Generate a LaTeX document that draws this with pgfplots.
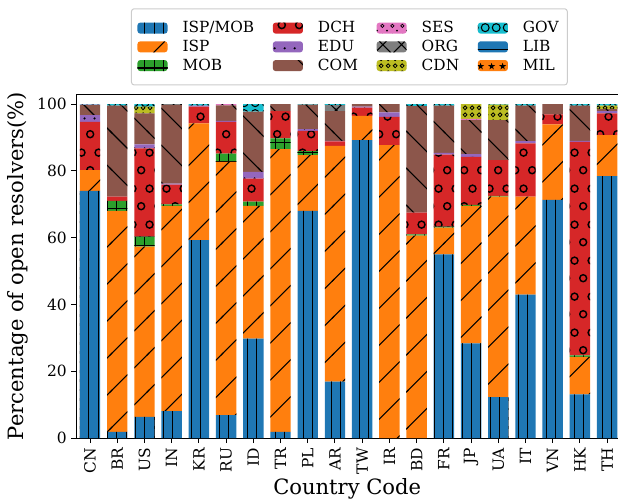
\documentclass[border=0pt]{standalone}
\usepackage{fontspec}
\setmainfont{DejaVu Serif}
\usepackage{pgfplots}
\pgfplotsset{compat=1.18}
\usepackage{pgfplotstable}
\usetikzlibrary{patterns}

\definecolor{c1}{HTML}{1F77B4}
\definecolor{c2}{HTML}{FF7F0E}
\definecolor{c3}{HTML}{2CA02C}
\definecolor{c4}{HTML}{D62728}
\definecolor{c5}{HTML}{9467BD}
\definecolor{c6}{HTML}{8C564B}
\definecolor{c7}{HTML}{E377C2}
\definecolor{c8}{HTML}{7F7F7F}
\definecolor{c9}{HTML}{BCBD22}
\definecolor{c10}{HTML}{17BECF}

% vertical lines
\pgfdeclarepatternformonly{pvl}{\pgfqpoint{-1pt}{-1pt}}{\pgfqpoint{8pt}{8pt}}{\pgfqpoint{7pt}{7pt}}{%
  \pgfsetlinewidth{0.8pt}%
  \pgfpathmoveto{\pgfqpoint{3.5pt}{-1pt}}\pgfpathlineto{\pgfqpoint{3.5pt}{8pt}}\pgfusepath{stroke}}
% horizontal lines
\pgfdeclarepatternformonly{phl}{\pgfqpoint{-1pt}{-1pt}}{\pgfqpoint{8pt}{8pt}}{\pgfqpoint{7pt}{7pt}}{%
  \pgfsetlinewidth{0.8pt}%
  \pgfpathmoveto{\pgfqpoint{-1pt}{3.5pt}}\pgfpathlineto{\pgfqpoint{8pt}{3.5pt}}\pgfusepath{stroke}}
% grid
\pgfdeclarepatternformonly{pgrid}{\pgfqpoint{-1pt}{-1pt}}{\pgfqpoint{8pt}{8pt}}{\pgfqpoint{7pt}{7pt}}{%
  \pgfsetlinewidth{0.8pt}%
  \pgfpathmoveto{\pgfqpoint{3.5pt}{-1pt}}\pgfpathlineto{\pgfqpoint{3.5pt}{8pt}}%
  \pgfpathmoveto{\pgfqpoint{-1pt}{3.5pt}}\pgfpathlineto{\pgfqpoint{8pt}{3.5pt}}\pgfusepath{stroke}}
% north east lines
\pgfdeclarepatternformonly{pne}{\pgfqpoint{-1pt}{-1pt}}{\pgfqpoint{28.75pt}{28.75pt}}{\pgfqpoint{27.75pt}{27.75pt}}{%
  \pgfsetlinewidth{0.8pt}%
  \pgfpathmoveto{\pgfqpoint{-1pt}{-1pt}}\pgfpathlineto{\pgfqpoint{28.75pt}{28.75pt}}\pgfusepath{stroke}}
% north west lines
\pgfdeclarepatternformonly{pnw}{\pgfqpoint{-1pt}{-1pt}}{\pgfqpoint{28.75pt}{28.75pt}}{\pgfqpoint{27.75pt}{27.75pt}}{%
  \pgfsetlinewidth{0.8pt}%
  \pgfpathmoveto{\pgfqpoint{-1pt}{28.75pt}}\pgfpathlineto{\pgfqpoint{28.75pt}{-1pt}}\pgfusepath{stroke}}
% crosshatch
\pgfdeclarepatternformonly{px}{\pgfqpoint{-1pt}{-1pt}}{\pgfqpoint{15pt}{15pt}}{\pgfqpoint{14pt}{14pt}}{%
  \pgfsetlinewidth{0.8pt}%
  \pgfpathmoveto{\pgfqpoint{-1pt}{-1pt}}\pgfpathlineto{\pgfqpoint{15pt}{15pt}}%
  \pgfpathmoveto{\pgfqpoint{-1pt}{15pt}}\pgfpathlineto{\pgfqpoint{15pt}{-1pt}}\pgfusepath{stroke}}
% circles
\pgfdeclarepatternformonly{pcirc}{\pgfqpoint{0pt}{0pt}}{\pgfqpoint{13pt}{27pt}}{\pgfqpoint{13pt}{27pt}}{%
  \pgfsetlinewidth{1.1pt}%
  \pgfpathcircle{\pgfqpoint{3.25pt}{6.75pt}}{2.7pt}%
  \pgfpathcircle{\pgfqpoint{9.75pt}{20.25pt}}{2.7pt}\pgfusepath{stroke}}
% dots
\pgfdeclarepatternformonly{pdots}{\pgfqpoint{0pt}{0pt}}{\pgfqpoint{7.5pt}{7.5pt}}{\pgfqpoint{7.5pt}{7.5pt}}{%
  \pgfpathcircle{\pgfqpoint{3.75pt}{3.75pt}}{0.95pt}\pgfusepath{fill}}
% small circles and dots
\pgfdeclarepatternformonly{pses}{\pgfqpoint{0pt}{0pt}}{\pgfqpoint{7.5pt}{7.5pt}}{\pgfqpoint{7.5pt}{7.5pt}}{%
  \pgfsetlinewidth{0.6pt}%
  \pgfpathcircle{\pgfqpoint{1.9pt}{5.6pt}}{1.3pt}\pgfusepath{stroke}%
  \pgfpathcircle{\pgfqpoint{5.6pt}{1.9pt}}{0.8pt}\pgfusepath{fill}}
% dense small circles
\pgfdeclarepatternformonly{pcdn}{\pgfqpoint{0pt}{0pt}}{\pgfqpoint{5.25pt}{5.25pt}}{\pgfqpoint{5.25pt}{5.25pt}}{%
  \pgfsetlinewidth{0.7pt}%
  \pgfpathcircle{\pgfqpoint{2.625pt}{2.625pt}}{1.6pt}\pgfusepath{stroke}}
% big circles
\pgfdeclarepatternformonly{pgov}{\pgfqpoint{0pt}{0pt}}{\pgfqpoint{8pt}{8pt}}{\pgfqpoint{8pt}{8pt}}{%
  \pgfsetlinewidth{0.8pt}%
  \pgfpathcircle{\pgfqpoint{4pt}{4pt}}{3pt}\pgfusepath{stroke}}

\pgfplotsset{
  s1/.style={fill=c1, draw=none, postaction={pattern=pvl, pattern color=black}},
  s2/.style={fill=c2, draw=none, postaction={pattern=pne, pattern color=black}},
  s3/.style={fill=c3, draw=none, postaction={pattern=pgrid, pattern color=black}},
  s4/.style={fill=c4, draw=none, postaction={pattern=pcirc, pattern color=black}},
  s5/.style={fill=c5, draw=none, postaction={pattern=pdots, pattern color=black}},
  s6/.style={fill=c6, draw=none, postaction={pattern=pnw, pattern color=black}},
  s7/.style={fill=c7, draw=none, postaction={pattern=pses, pattern color=black}},
  s8/.style={fill=c8, draw=none, postaction={pattern=px, pattern color=black}},
  s9/.style={fill=c9, draw=none, postaction={pattern=pcdn, pattern color=black}},
  s10/.style={fill=c10, draw=none, postaction={pattern=pgov, pattern color=black}},
  s11/.style={fill=c1, draw=none, postaction={pattern=phl, pattern color=black}},
  s12/.style={fill=c2, draw=none, postaction={pattern=fivepointed stars, pattern color=black}},
  legimg/.style={legend image code/.code={\fill[##1] (0pt,-4.1pt) rectangle (22.5pt,4.1pt);}},
}

\pgfplotstableread{
x ISPMOB ISP MOB DCH EDU COM SES ORG CDN GOV LIB MIL
0 74.0 6.2 0 14.5 2.0 3.0 0.1 0 0 0.2 0 0
1 1.9 66.1 3.0 1.3 0 27.2 0 0 0 0.5 0 0
2 6.4 50.9 3.0 26.4 1.2 9.3 0 0 2.0 0.8 0 0
3 8.1 61.4 0.5 5.9 0.3 23.5 0 0.3 0 0 0 0
4 59.3 34.9 0 5.0 0.3 0 0 0 0 0.5 0 0
5 6.9 75.8 2.5 9.5 0.3 4.6 0.4 0 0 0 0 0
6 29.8 39.7 1.3 6.9 2.0 18.0 0 0 0 2.3 0 0
7 1.9 84.6 3.2 8.2 0 2.1 0 0 0 0 0 0
8 68.0 16.7 1.2 6.1 0.5 7.3 0 0 0 0.2 0 0
9 16.9 70.6 0 1.3 0.2 8.9 0 1.8 0 0.3 0 0
10 89.2 7.3 0 2.4 0.3 0.8 0 0 0 0 0 0
11 0 87.7 0 8.5 1.3 2.5 0 0 0 0 0 0
12 0 60.6 0.4 6.5 0 31.9 0 0 0 0.6 0 0
13 55.0 8.0 0.3 21.6 0.5 14.1 0 0 0 0.5 0 0
14 28.4 41.1 0.3 14.4 0.8 10.2 0.4 0 4.4 0 0 0
15 12.3 60.0 0.2 10.7 0 12.0 0 0 4.6 0.2 0 0
16 43.0 29.3 0 15.9 0.7 10.6 0 0 0 0.5 0 0
17 71.3 22.6 0 3.0 0 3.1 0 0 0 0 0 0
18 13.1 11.2 0.5 63.9 0.3 10.5 0 0 0 0.5 0 0
19 78.4 12.3 0 6.5 0.7 0.6 0 0 1.0 0.5 0 0
}\data

\begin{document}
\begin{tikzpicture}
\begin{axis}[
  name=ax,
  scale only axis,
  width=406pt, height=258pt,
  ybar stacked, bar width=0.75,
  xmin=-0.5, xmax=19.4, ymin=0, ymax=103,
  enlargelimits=false,
  xtick={0,...,19},
  xticklabels={CN,BR,US,IN,KR,RU,ID,TR,PL,AR,TW,IR,BD,FR,JP,UA,IT,VN,HK,TH},
  ytick={0,20,...,100},
  axis x line*=box, axis y line*=left,
  tick pos=left,
  tick align=outside,
  major tick length=3.75pt,
  tick style={line width=0.75pt, black},
  axis line style={line width=0.75pt, black},
  /pgf/number format/assume math mode=true,
  tick label style={font=\fontsize{11.6}{14}\selectfont},
  xticklabel style={rotate=90, anchor=east},
  label style={font=\fontsize{15.8}{19}\selectfont},
  xlabel={Country Code},
  xlabel style={yshift=3.5pt},
  ylabel={Percentage of open resolvers(\%)},
  legend columns=4,
  legend cell align=left,
  legend style={at={(0.504,1.025)}, anchor=south, draw=black!20, line width=0.75pt,
    rounded corners=2pt, inner xsep=4.5pt, inner ysep=7.5pt,
    font=\fontsize{11.5}{13.8}\selectfont,
    /tikz/every odd column/.append style={column sep=9.3pt},
    /tikz/every even column/.append style={column sep=12pt},
    row sep=0pt},
]
\addplot[s1, forget plot] table[x=x, y=ISPMOB] {\data};
\addplot[s2, forget plot] table[x=x, y=ISP] {\data};
\addplot[s3, forget plot] table[x=x, y=MOB] {\data};
\addplot[s4, forget plot] table[x=x, y=DCH] {\data};
\addplot[s5, forget plot] table[x=x, y=EDU] {\data};
\addplot[s6, forget plot] table[x=x, y=COM] {\data};
\addplot[s7, forget plot] table[x=x, y=SES] {\data};
\addplot[s8, forget plot] table[x=x, y=ORG] {\data};
\addplot[s9, forget plot] table[x=x, y=CDN] {\data};
\addplot[s10, forget plot] table[x=x, y=GOV] {\data};
\addplot[s11, forget plot] table[x=x, y=LIB] {\data};
\addplot[s12, forget plot] table[x=x, y=MIL] {\data};

\addlegendimage{s1, legimg}\addlegendentry{ISP/MOB}
\addlegendimage{s4, legimg}\addlegendentry{DCH}
\addlegendimage{s7, legimg}\addlegendentry{SES}
\addlegendimage{s10, legimg}\addlegendentry{GOV}
\addlegendimage{s2, legimg}\addlegendentry{ISP}
\addlegendimage{s5, legimg}\addlegendentry{EDU}
\addlegendimage{s8, legimg}\addlegendentry{ORG}
\addlegendimage{s11, legimg}\addlegendentry{LIB}
\addlegendimage{s3, legimg}\addlegendentry{MOB}
\addlegendimage{s6, legimg}\addlegendentry{COM}
\addlegendimage{s9, legimg}\addlegendentry{CDN}
\addlegendimage{s12, legimg}\addlegendentry{MIL}
\end{axis}
\pgfresetboundingbox
\path[use as bounding box] ([xshift=-57.3pt,yshift=-48pt]ax.south west) rectangle ([yshift=70.5pt]ax.north east);
\end{tikzpicture}
\end{document}
